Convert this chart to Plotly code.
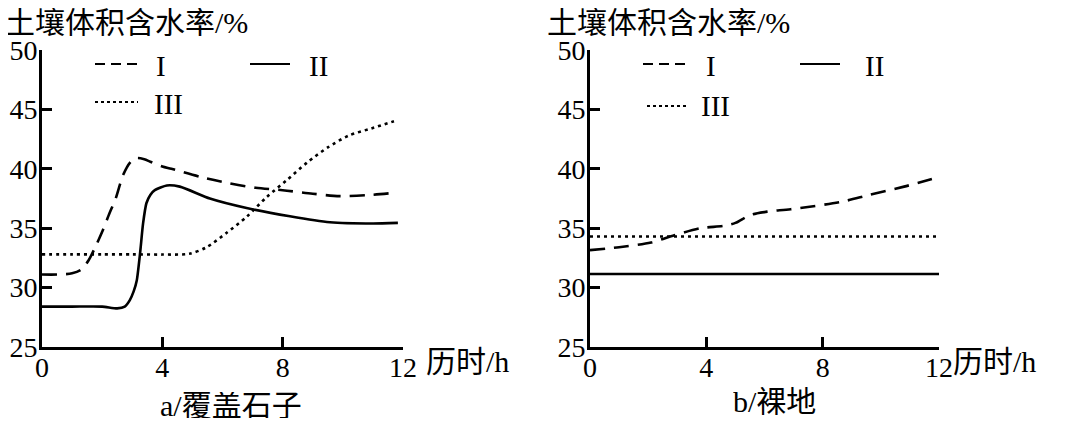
import plotly.graph_objects as go

# page has an 8px body margin; the figure is sized to fit the 1080x426 window
OFF = 8
W, H = 1080 - 2 * OFF, 426 - 2 * OFF

# ---------------- data ----------------
# Panel a: 覆盖石子
a_I_x = [0, 0.5, 1.0, 1.3, 1.55, 1.75, 2.0, 2.25, 2.45, 2.7, 2.95, 3.15, 3.4, 3.6, 4.0, 4.3, 5.3, 6.2, 7.1, 8.0, 9.0, 9.9, 10.9, 11.8]
a_I_y = [31.1, 31.1, 31.2, 31.5, 32.3, 33.3, 34.7, 36.3, 37.5, 39.5, 40.6, 40.9, 40.8, 40.6, 40.2, 40.0, 39.3, 38.8, 38.4, 38.2, 37.9, 37.7, 37.8, 38.0]

a_II_x = [0, 1.0, 2.0, 2.5, 2.75, 2.92, 3.05, 3.15, 3.26, 3.36, 3.47, 3.6, 3.75, 4.15, 4.58, 5.58, 6.8, 8.24, 9.57, 11.0, 11.83]
a_II_y = [28.4, 28.4, 28.4, 28.25, 28.4, 28.95, 29.7, 30.6, 32.9, 35.4, 37.1, 37.8, 38.2, 38.6, 38.5, 37.5, 36.7, 36.0, 35.5, 35.4, 35.45]

a_III_x = [0, 1.0, 2.0, 3.0, 4.0, 4.9, 5.47, 6.13, 6.8, 7.46, 8.14, 8.8, 9.5, 10.2, 10.95, 11.7]
a_III_y = [32.8, 32.8, 32.8, 32.8, 32.78, 32.85, 33.4, 34.6, 35.95, 37.6, 39.05, 40.5, 41.8, 42.8, 43.4, 44.0]

# Panel b: 裸地
b_I_x = [0, 1.0, 2.1, 2.9, 3.8, 4.6, 5.0, 5.5, 6.1, 6.9, 8.6, 9.6, 10.8, 12.0]
b_I_y = [33.15, 33.4, 33.8, 34.4, 35.0, 35.2, 35.45, 36.1, 36.4, 36.6, 37.2, 37.8, 38.5, 39.3]

b_II_x = [0, 12.1]
b_II_y = [31.15, 31.15]

b_III_x = [0, 12.0]
b_III_y = [34.3, 34.3]

y_ticks = [25, 30, 35, 40, 45, 50]
x_ticks = [0, 4, 8, 12]
series_names = ["I", "II", "III"]

y_title = "土壤体积含水率/%"
x_title = "历时/h"
panel_titles = ["a/覆盖石子", "b/裸地"]

# ---------------- styles ----------------
SERIF = "Liberation Serif"
MIXED = "Liberation Serif, Noto Sans CJK SC"
DASH = "15px,9px"
DOT = "3px,4px"
LW = 2.6


def px(x):
    return (x - OFF) / W


def py(y):
    return 1 - (y - OFF) / H


fig = go.Figure()

def add(xs, ys, axis, dash, smooth=0.8):
    fig.add_trace(go.Scatter(
        x=xs, y=ys, mode="lines",
        line=dict(color="black", width=LW, dash=dash, shape="spline", smoothing=smooth),
        xaxis="x" if axis == 1 else "x2",
        yaxis="y" if axis == 1 else "y2",
        showlegend=False, hoverinfo="skip",
    ))

add(a_I_x, a_I_y, 1, DASH)
add(a_II_x, a_II_y, 1, "solid", 0.6)
add(a_III_x, a_III_y, 1, DOT)
add(b_I_x, b_I_y, 2, DASH)
add(b_II_x, b_II_y, 2, "solid")
add(b_III_x, b_III_y, 2, DOT)

ydom = [py(347), py(50)]
common_axis = dict(
    showline=True, linecolor="black", linewidth=2.6,
    ticks="inside", ticklen=10, tickwidth=2.6, tickcolor="black",
    showgrid=False, zeroline=False, automargin=False,
    tickfont=dict(family=SERIF, size=28, color="black"),
    fixedrange=True,
)
xax = dict(common_axis, ticklabelstandoff=-6)
yax = dict(common_axis, ticklabelstandoff=-4)

fig.update_layout(
    width=W, height=H,
    margin=dict(l=0, r=0, t=0, b=0, pad=0, autoexpand=False),
    paper_bgcolor="white", plot_bgcolor="white",
    xaxis=dict(domain=[px(42), px(403)], range=[0, 12], tickvals=x_ticks, anchor="y", **xax),
    yaxis=dict(domain=ydom, range=[25, 50], tickvals=y_ticks, anchor="x", **yax),
    xaxis2=dict(domain=[px(590), px(939)], range=[0, 12], tickvals=x_ticks, anchor="y2", **xax),
    yaxis2=dict(domain=ydom, range=[25, 50], tickvals=y_ticks, anchor="x2", **yax),
)

ann = []
def text(t, x, y, xanchor="center", size=28, height=None):
    d = dict(text=t, x=px(x), y=py(y), xref="paper", yref="paper",
             xanchor=xanchor, yanchor="middle", showarrow=False,
             font=dict(family=MIXED, size=size, color="black"))
    if height is not None:
        d["height"] = height
    ann.append(d)

# axis titles
text(y_title, 3, 22, "left", 30, 28)
text(y_title, 545, 22, "left", 30, 28)
text(x_title, 424, 361, "left", 30)
text(x_title, 951, 361, "left", 30)
# panel titles
text(panel_titles[0], 231, 405, "center", 30, 26)
text(panel_titles[1], 774, 401, "center", 30, 28)

# legend labels
text(series_names[0], 161, 66, "center", 29)
text(series_names[1], 318, 66, "center", 29)
text(series_names[2], 168, 104, "center", 29)
text(series_names[0], 711, 66, "center", 29)
text(series_names[1], 874, 66, "center", 29)
text(series_names[2], 715, 106, "center", 29)

shapes = []
def seg(x0, x1, y, dash):
    shapes.append(dict(type="line", xref="paper", yref="paper",
                       x0=px(x0), x1=px(x1), y0=py(y), y1=py(y),
                       line=dict(color="black", width=2.2, dash=dash)))

seg(95, 138, 64, "10px,6px")
seg(250, 290, 64, "solid")
seg(95, 138, 102, "3px,3px")
seg(643, 685, 64, "10px,6px")
seg(800, 840, 64, "solid")
seg(647, 688, 106, "3px,3px")

fig.update_layout(annotations=ann, shapes=shapes)

fig.write_html("out.html")
